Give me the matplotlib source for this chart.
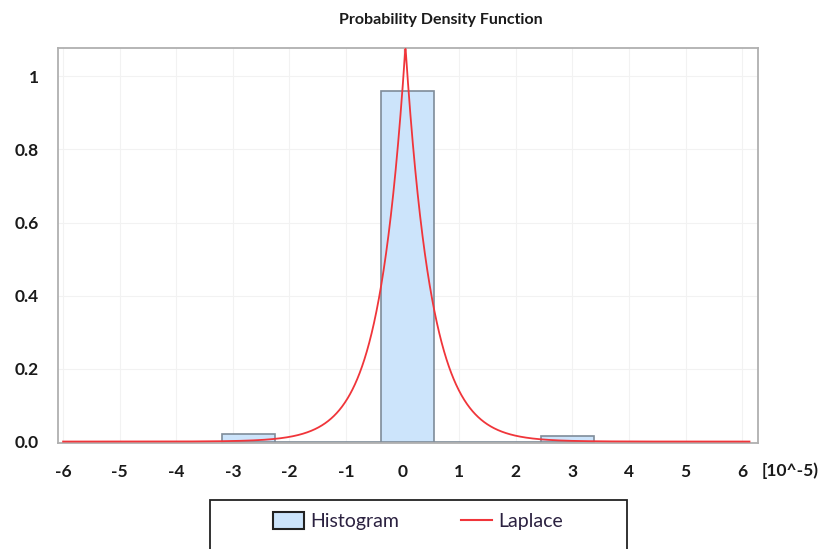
import numpy as np
import matplotlib
matplotlib.use("Agg")
import matplotlib.pyplot as plt
from matplotlib.patches import Patch, Rectangle
from matplotlib.lines import Line2D

# Histogram bins (units of 10^-5) and their densities
bin_edges = [-3.2, -2.26, -1.32, -0.38, 0.56, 1.50, 2.44, 3.38]
bin_density = [0.021, 0.0, 0.0, 0.96, 0.0, 0.0, 0.016]

# Fitted Laplace distribution parameters
laplace_loc = 0.05
laplace_scale = 0.462
curve_range = (-6.0, 6.13)

x_ticks = [-6, -5, -4, -3, -2, -1, 0, 1, 2, 3, 4, 5, 6]
y_ticks = [0.0, 0.2, 0.4, 0.6, 0.8, 1.0]
y_tick_labels = ["0.0", "0.2", "0.4", "0.6", "0.8", "1"]

plt.rcParams['font.family'] = ['Lato', 'DejaVu Sans']

W, H = 835, 549
fig = plt.figure(figsize=(W / 100, H / 100), dpi=100)
ax = fig.add_axes([58 / W, 1 - 443 / H, 700 / W, 395 / H])

# histogram
lefts = np.array(bin_edges[:-1])
widths = np.diff(bin_edges)
ax.bar(lefts, bin_density, width=widths, align='edge',
       facecolor='#cce4fb', edgecolor='#7f8c99', linewidth=1.2, zorder=2)

# Laplace density
xs = np.linspace(curve_range[0], curve_range[1], 2001)
pdf = np.exp(-np.abs(xs - laplace_loc) / laplace_scale) / (2 * laplace_scale)
ax.plot(xs, pdf, color='#f0353a', linewidth=1.3, zorder=3)

ax.set_xlim(-6.09, 6.28)
ax.set_ylim(-0.004, 1.078)
ax.set_xticks(x_ticks)
ax.set_xticklabels([str(t) for t in x_ticks])
ax.set_yticks(y_ticks)
ax.set_yticklabels(y_tick_labels)
ax.tick_params(axis='both', length=0, labelsize=12.5, colors='#1a1a1a')
ax.tick_params(axis='x', pad=15)
ax.tick_params(axis='y', pad=14)
for lab in ax.get_xticklabels() + ax.get_yticklabels():
    lab.set_fontweight('bold')

ax.grid(True, color='#f2f2f2', linewidth=0.8, zorder=0)
ax.set_axisbelow(True)
for s in ax.spines.values():
    s.set_color('#b0b0b0')
    s.set_linewidth(1.3)

fig.text(790 / W, 1 - 471 / H, "[10^-5)", ha='center', va='center',
         fontsize=12.5, fontweight='bold', color='#1a1a1a')

fig.text(441 / W, 1 - 20 / H, "Probability Density Function",
         ha='center', va='center', fontsize=11.5, fontweight='bold', color='#1a1a1a')

# legend box runs past the bottom edge of the figure
fig.patches.append(Rectangle((210 / W, -0.05), 417 / W, 0.05 + (H - 500) / H,
                             transform=fig.transFigure, facecolor='white',
                             edgecolor='#222222', linewidth=1.3, zorder=1))

handles = [Patch(facecolor='#cce4fb', edgecolor='#222222', linewidth=1.5),
           Line2D([0], [0], color='#f0353a', linewidth=1.5)]
leg = fig.legend(handles, ["Histogram", "Laplace"], ncol=2,
                 loc='center', bbox_to_anchor=(418 / W, 1 - 521 / H),
                 fontsize=14, frameon=False,
                 handlelength=1.6, handleheight=1.0, handletextpad=0.3,
                 borderpad=0.0, borderaxespad=0.0, columnspacing=3.2)
leg.set_zorder(2)
for t in leg.get_texts():
    t.set_color('#2b2140')

fig.savefig("out.png", dpi=100, facecolor='white')
